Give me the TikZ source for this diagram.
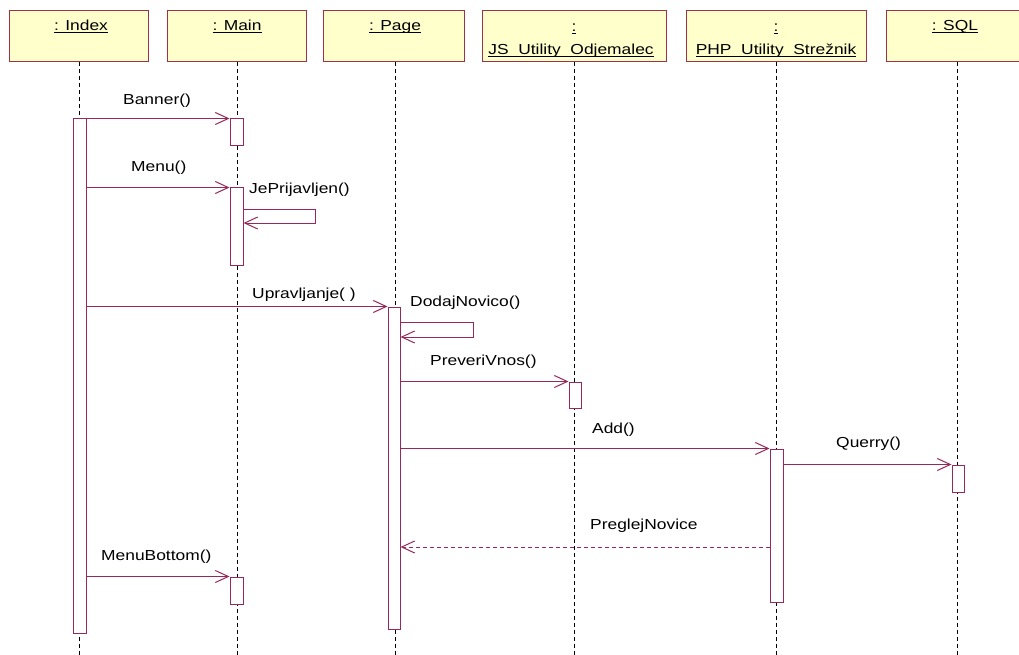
\documentclass[tikz,border=0pt]{standalone}
\usepackage{fontspec}
\setmainfont[FakeStretch=1.2]{Liberation Sans}
\usetikzlibrary{arrows.meta}
\definecolor{ln}{RGB}{150,40,90}
\definecolor{hb}{RGB}{160,50,70}
\definecolor{bx}{RGB}{255,255,204}
\newcommand{\hul}[1]{\underline{\smash{#1}}}
\begin{document}
\begin{tikzpicture}[x=1pt,y=-1pt,
  every node/.style={font=\fontsize{14.5}{17}\selectfont, inner sep=0pt},
  hdr/.style={draw=hb, fill=bx, line width=1pt, minimum height=51pt},
  htxt/.style={anchor=base},
  life/.style={black, line width=1pt, dash pattern=on 4pt off 3pt},
  actbar/.style={draw=ln, fill=white, line width=1pt, minimum width=12pt},
  msg/.style={draw=ln, line width=1pt, -{Straight Barb[length=13pt,width=12pt]}},
  ret/.style={msg, dash pattern=on 4pt off 3pt},
  lbl/.style={anchor=west, text=black}]
\clip (0,0) rectangle (1019,655);
\fill[white] (0,0) rectangle (1019,655);

% headers
\node[hdr, minimum width=139pt] (hIdx)  at (78.5,36.5) {};
\node[hdr, minimum width=139pt] (hMain) at (236.5,36.5) {};
\node[hdr, minimum width=141pt] (hPage) at (393.5,36.5) {};
\node[hdr, minimum width=184pt] (hJS)   at (574,36.5) {};
\node[hdr, minimum width=180pt] (hPHP)  at (776,36.5) {};
\node[hdr, minimum width=142pt] (hSQL)  at (957,36.5) {};

\node[htxt] (tIdx)  at (81,31) {\hul{: Index}};
\node[htxt] (tMain) at (237,31) {\hul{: Main}};
\node[htxt] (tPage) at (395,31) {\hul{: Page}};
\node[htxt] (tJS1)  at (574,32) {\hul{:}};
\node[htxt] (tJS2)  at (571,55) {\hul{JS\ \ Utility\ \ Odjemalec}};
\node[htxt] (tPHP1) at (776,32) {\hul{:}};
\node[htxt] (tPHP2) at (776,55) {\hul{PHP\ \ Utility\ \ Strežnik}};
\node[htxt] (tSQL)  at (955,31) {\hul{: SQL}};

% lifeline ends
\coordinate (eIdx)  at (79,655);
\coordinate (eMain) at (237,655);
\coordinate (ePage) at (395,655);
\coordinate (eJS)   at (574,655);
\coordinate (ePHP)  at (776,655);
\coordinate (eSQL)  at (957,655);
\draw[life] (hIdx.south -| eIdx) -- (eIdx);
\draw[life] (hMain.south -| eMain) -- (eMain);
\draw[life] (hPage.south -| ePage) -- (ePage);
\draw[life] (hJS.south -| eJS) -- (eJS);
\draw[life] (hPHP.south -| ePHP) -- (ePHP);
\draw[life] (hSQL.south -| eSQL) -- (eSQL);

% activation bars
\node[actbar, minimum width=13pt, minimum height=514pt] (ixBar) at (79.5,376) {};
\node[actbar, minimum width=13pt, minimum height=27pt]  (mb1)   at (236.5,132.5) {};
\node[actbar, minimum width=13pt, minimum height=77pt]  (mb2)   at (236.5,226.5) {};
\node[actbar, minimum width=13pt, minimum height=27pt]  (mb3)   at (236.5,590.5) {};
\node[actbar, minimum height=322pt] (pgBar)  at (394,468) {};
\node[actbar, minimum height=26pt]  (jsBar)  at (575,395) {};
\node[actbar, minimum width=13pt, minimum height=153pt] (phpBar) at (776.5,525.5) {};
\node[actbar, minimum height=27pt]  (sqlBar) at (958,478.5) {};

% loop corners and return line level
\coordinate (jpA) at (315,209);
\coordinate (jpB) at (315,223);
\coordinate (dnA) at (473,322);
\coordinate (dnB) at (473,337);
\coordinate (pnY) at (0,547);

% messages
\draw[msg] (ixBar.east |- mb1.north) -- (mb1.north west);
\draw[msg] (ixBar.east |- mb2.north) -- (mb2.north west);
\draw[msg] (mb2.east |- jpA) -- (jpA) -- (jpB) -- (mb2.east |- jpB);
\draw[msg] (ixBar.east |- pgBar.north) -- (pgBar.north west);
\draw[msg] (pgBar.east |- dnA) -- (dnA) -- (dnB) -- (pgBar.east |- dnB);
\draw[msg] (pgBar.east |- jsBar.north) -- (jsBar.north west);
\draw[msg] (pgBar.east |- phpBar.north) -- (phpBar.north west);
\draw[msg] (phpBar.east |- sqlBar.north) -- (sqlBar.north west);
\draw[ret] (phpBar.west |- pnY) -- (pgBar.east |- pnY);
\draw[msg] (ixBar.east |- mb3.north) -- (mb3.north west);

% labels
\node[lbl] (lBanner) at (123,101) {Banner()};
\node[lbl] (lMenu)   at (131,168) {Menu()};
\node[lbl] (lJe)     at (249,190) {JePrijavljen()};
\node[lbl] (lUpr)    at (252,295) {Upravljanje( )};
\node[lbl] (lDod)    at (410,303) {DodajNovico()};
\node[lbl] (lPre)    at (430,362) {PreveriVnos()};
\node[lbl] (lAdd)    at (592,430) {Add()};
\node[lbl] (lQue)    at (836,444) {Querry()};
\node[lbl] (lPreg)   at (590,526) {PreglejNovice};
\node[lbl] (lMB)     at (101,557) {MenuBottom()};
\end{tikzpicture}
\end{document}
